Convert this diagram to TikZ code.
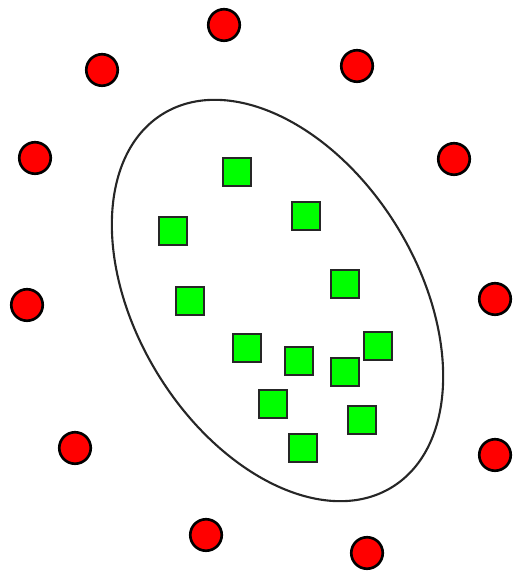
\documentclass[tikz,border=0pt]{standalone}
\usepackage{tikz}
\usetikzlibrary{positioning,shapes.geometric}

\begin{document}
\begin{tikzpicture}[
  % Node Styles
  outlier/.style={circle, draw=black, fill=red, line width=1.5pt, minimum size=0.63cm, inner sep=0pt},
  inlier/.style={rectangle, draw=black!85, fill=green, line width=1.6pt, minimum size=0.56cm, inner sep=0pt},
  boundary/.style={ellipse, draw=black!85, line width=1.2pt, minimum width=5.62cm, minimum height=8.76cm, inner sep=0pt},
]
\useasboundingbox (0,0) rectangle (10.26,11.52);

% Decision boundary
\node[boundary, rotate=31.5] (Boundary) at (5.55,5.51) {};

% Outliers
\node[outlier] (R_1) at (4.48,11.02) {};
\node[outlier] (R_2) at (2.04,10.12) {};
\node[outlier] (R_3) at (7.14,10.20) {};
\node[outlier] (R_4) at (0.70,8.36) {};
\node[outlier] (R_5) at (9.08,8.34) {};
\node[outlier] (R_6) at (0.54,5.42) {};
\node[outlier] (R_7) at (9.90,5.54) {};
\node[outlier] (R_8) at (1.50,2.56) {};
\node[outlier] (R_9) at (9.90,2.42) {};
\node[outlier] (R_10) at (4.12,0.82) {};
\node[outlier] (R_11) at (7.34,0.46) {};

% Inliers
\node[inlier] (G_1) at (4.74,8.08) {};
\node[inlier] (G_2) at (6.12,7.20) {};
\node[inlier] (G_3) at (3.46,6.90) {};
\node[inlier] (G_4) at (6.90,5.84) {};
\node[inlier] (G_5) at (3.80,5.50) {};
\node[inlier] (G_6) at (4.94,4.56) {};
\node[inlier] (G_7) at (5.98,4.30) {};
\node[inlier] (G_8) at (7.56,4.60) {};
\node[inlier] (G_9) at (6.90,4.08) {};
\node[inlier] (G_10) at (5.46,3.44) {};
\node[inlier] (G_11) at (7.24,3.12) {};
\node[inlier] (G_12) at (6.06,2.56) {};

\end{tikzpicture}
\end{document}
